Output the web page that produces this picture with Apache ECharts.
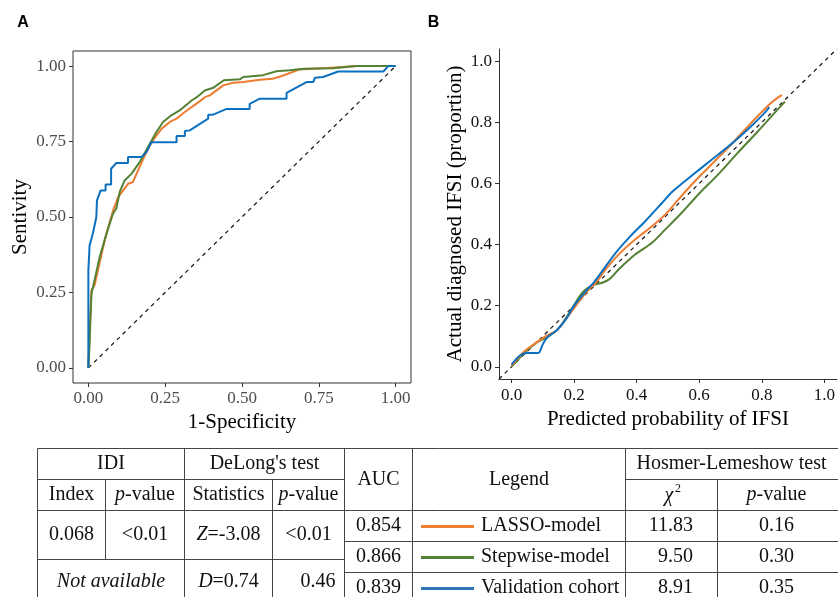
<!DOCTYPE html>
<html>
<head>
<meta charset="utf-8">
<script src="https://cdn.jsdelivr.net/npm/echarts@6/dist/echarts.min.js"></script>
<style>
html,body{margin:0;padding:0;background:#fff;}
#chart{width:838px;height:597px;}
</style>
</head>
<body>
<div id="chart"></div>
<script>
// ---------- Data ----------
// Panel A: ROC curves, [1-specificity, sensitivity]
const lassoRoc = [[0,0],[0.004,0.12],[0.01,0.257],[0.02,0.274],[0.026,0.30],[0.037,0.35],[0.048,0.40],[0.059,0.445],[0.08,0.52],[0.097,0.566],[0.113,0.588],[0.129,0.61],[0.145,0.616],[0.167,0.666],[0.189,0.715],[0.21,0.754],[0.238,0.792],[0.265,0.815],[0.287,0.826],[0.314,0.848],[0.363,0.884],[0.379,0.897],[0.395,0.903],[0.439,0.936],[0.471,0.945],[0.504,0.947],[0.558,0.955],[0.60,0.958],[0.634,0.969],[0.688,0.989],[0.775,0.994],[0.873,1.0],[1,1]];
const stepwiseRoc = [[0,0],[0.004,0.08],[0.007,0.169],[0.01,0.246],[0.02,0.29],[0.037,0.368],[0.059,0.445],[0.08,0.511],[0.091,0.528],[0.102,0.583],[0.118,0.621],[0.14,0.643],[0.167,0.682],[0.2,0.743],[0.221,0.781],[0.243,0.815],[0.27,0.837],[0.297,0.853],[0.336,0.886],[0.353,0.897],[0.379,0.919],[0.406,0.928],[0.441,0.953],[0.493,0.956],[0.504,0.964],[0.569,0.97],[0.612,0.983],[0.656,0.986],[0.699,0.991],[0.797,0.993],[0.873,1.0],[1,1]];
const validationRoc = [[0,0],[0,0.323],[0.004,0.406],[0.01,0.428],[0.015,0.447],[0.026,0.50],[0.028,0.555],[0.04,0.588],[0.056,0.588],[0.056,0.608],[0.074,0.608],[0.074,0.66],[0.091,0.679],[0.129,0.679],[0.129,0.699],[0.173,0.699],[0.189,0.715],[0.205,0.748],[0.287,0.748],[0.287,0.768],[0.314,0.768],[0.314,0.785],[0.33,0.787],[0.39,0.826],[0.39,0.839],[0.406,0.839],[0.45,0.858],[0.525,0.858],[0.525,0.875],[0.558,0.892],[0.645,0.892],[0.645,0.911],[0.71,0.947],[0.732,0.947],[0.737,0.961],[0.764,0.964],[0.813,0.982],[0.96,0.982],[0.976,1.0],[1,1]];
const rocDiagonal = [[0,0],[1,1]];

// Panel B: calibration curves, [predicted, actual]
const lassoCal = [[0,0.003],[0.037,0.047],[0.079,0.079],[0.111,0.101],[0.143,0.118],[0.174,0.156],[0.206,0.2],[0.238,0.243],[0.269,0.275],[0.301,0.319],[0.343,0.368],[0.396,0.417],[0.449,0.46],[0.491,0.498],[0.533,0.547],[0.586,0.607],[0.639,0.662],[0.702,0.727],[0.766,0.798],[0.829,0.863],[0.864,0.89]];
const stepwiseCal = [[0,0],[0.037,0.041],[0.079,0.079],[0.116,0.098],[0.153,0.128],[0.195,0.194],[0.227,0.243],[0.259,0.267],[0.29,0.275],[0.312,0.286],[0.343,0.319],[0.396,0.368],[0.449,0.406],[0.491,0.449],[0.544,0.504],[0.597,0.564],[0.66,0.629],[0.723,0.7],[0.787,0.77],[0.84,0.83],[0.874,0.868]];
const validationCal = [[0,0.007],[0.026,0.036],[0.048,0.045],[0.085,0.045],[0.1,0.074],[0.116,0.098],[0.143,0.118],[0.174,0.156],[0.2,0.2],[0.238,0.248],[0.264,0.277],[0.29,0.313],[0.333,0.373],[0.375,0.422],[0.428,0.477],[0.481,0.536],[0.512,0.571],[0.554,0.607],[0.607,0.651],[0.66,0.694],[0.713,0.738],[0.766,0.787],[0.808,0.83],[0.824,0.85]];
const calDiagonal = [[-0.04,-0.04],[1.04,1.04]];

// Tick labels
const ticksA = [0, 0.25, 0.5, 0.75, 1];
const ticksB = [0, 0.2, 0.4, 0.6, 0.8, 1.0];

// Table contents
const modelNames = ['LASSO-model', 'Stepwise-model', 'Validation cohort'];
const aucValues = ['0.854', '0.866', '0.839'];
const hlChi2 = ['11.83', '9.50', '8.91'];
const hlPValues = ['0.16', '0.30', '0.35'];
const idiRow = ['0.068', '<0.01'];
const delongZ = ['-3.08', '<0.01'];
const delongD = ['0.74', '0.46'];

// ---------- Styles ----------
const FONT = "'Liberation Serif','Times New Roman',serif";
const SANS = "'Liberation Sans',Arial,sans-serif";
const C_ORANGE = '#ED7D31', C_GREEN = '#548235', C_BLUE = '#0B70C0';
const LEG_BLUE = '#2E75B6';

const chart = echarts.init(document.getElementById('chart'), null, {renderer: 'canvas'});

function lineSeries(data, color, xi, smooth) {
  return {type: 'line', xAxisIndex: xi, yAxisIndex: xi, data: data, showSymbol: false, symbol: 'none',
    smooth: smooth || false, lineStyle: {color: color, width: 2}, itemStyle: {color: color}, z: 3, silent: true};
}
function dashSeries(data, xi) {
  return {type: 'line', xAxisIndex: xi, yAxisIndex: xi, data: data, showSymbol: false, symbol: 'none',
    lineStyle: {color: '#111', width: 1.2, type: [4, 4]}, z: 2, silent: true};
}

// ---------- Table graphics ----------
const G = [];
const LC = '#444';
function L(x1, y1, x2, y2) {
  G.push({type: 'line', silent: true, shape: {x1: x1, y1: y1, x2: x2, y2: y2}, style: {stroke: LC, lineWidth: 1}});
}
function T(x, y, text, align, extra) {
  const st = Object.assign({text: text, x: x, y: y, fontFamily: FONT, fontSize: 20, fill: '#111',
    align: align || 'center', verticalAlign: 'middle'}, extra || {});
  G.push({type: 'text', silent: true, style: st});
}
const rich = {
  i: {fontFamily: FONT, fontSize: 20, fontStyle: 'italic', fill: '#111'},
  n: {fontFamily: FONT, fontSize: 20, fill: '#111'}
};

const cx = [37.5, 105.5, 184.5, 272.5, 344.5, 412.5, 625.5, 717.5, 839.5];
const ry = [448.5, 479.5, 510.5, 541.5, 572.5, 603.5];
const rowMidIDI = 559.5;
// horizontal lines
L(cx[0], ry[0], cx[8], ry[0]);
L(cx[0], ry[1], cx[4], ry[1]);
L(cx[6], ry[1], cx[8], ry[1]);
L(cx[0], ry[2], cx[8], ry[2]);
L(cx[4], ry[3], cx[8], ry[3]);
L(cx[4], ry[4], cx[8], ry[4]);
L(cx[0], rowMidIDI, cx[4], rowMidIDI);
// vertical lines
L(cx[0], ry[0], cx[0], 600);
L(cx[1], ry[1], cx[1], rowMidIDI);
L(cx[2], ry[0], cx[2], 600);
L(cx[3], ry[1], cx[3], 600);
L(cx[4], ry[0], cx[4], 600);
L(cx[5], ry[0], cx[5], 600);
L(cx[6], ry[0], cx[6], 600);
L(cx[7], ry[1], cx[7], 600);

const hMid1 = (ry[0] + ry[1]) / 2, hMid2 = (ry[1] + ry[2]) / 2, hMidAll = (ry[0] + ry[2]) / 2;
T((cx[0] + cx[2]) / 2, hMid1, 'IDI');
T((cx[2] + cx[4]) / 2, hMid1, "DeLong's test");
T((cx[4] + cx[5]) / 2, hMidAll, 'AUC');
T((cx[5] + cx[6]) / 2, hMidAll, 'Legend');
T((cx[6] + cx[8]) / 2 - 1, hMid1, 'Hosmer-Lemeshow test');
T((cx[0] + cx[1]) / 2, hMid2, 'Index');
T((cx[1] + cx[2]) / 2, hMid2, '{i|p}{n|-value}', 'center', {rich: rich});
T((cx[2] + cx[3]) / 2, hMid2, 'Statistics');
T((cx[3] + cx[4]) / 2, hMid2, '{i|p}{n|-value}', 'center', {rich: rich});
T(669, hMid2 + 1, 'χ', 'center', {fontStyle: 'italic'});
T(678, hMid2 - 6, '2', 'center', {fontSize: 12});
T((cx[7] + cx[8]) / 2 - 2, hMid2, '{i|p}{n|-value}', 'center', {rich: rich});

const idiMid = (ry[2] + rowMidIDI) / 2;
T((cx[0] + cx[1]) / 2, idiMid, idiRow[0]);
T((cx[1] + cx[2]) / 2, idiMid, idiRow[1]);
T((cx[2] + cx[3]) / 2, idiMid, '{i|Z}{n|=' + delongZ[0] + '}', 'center', {rich: rich});
T((cx[3] + cx[4]) / 2, idiMid, delongZ[1]);
const naMid = (rowMidIDI + 603) / 2;
T((cx[0] + cx[2]) / 2, naMid, 'Not available', 'center', {fontStyle: 'italic'});
T((cx[2] + cx[3]) / 2, naMid, '{i|D}{n|=' + delongD[0] + '}', 'center', {rich: rich});
T(318, naMid, delongD[1]);

const legColors = [C_ORANGE, C_GREEN, LEG_BLUE];
for (let k = 0; k < 3; k++) {
  const ym = (ry[2 + k] + ry[3 + k]) / 2;
  T((cx[4] + cx[5]) / 2, ym, aucValues[k]);
  G.push({type: 'line', silent: true, shape: {x1: 421, y1: ym + 0.5, x2: 474, y2: ym + 0.5},
    style: {stroke: legColors[k], lineWidth: 3}});
  T(481, ym, modelNames[k], 'left');
  T(693, ym, hlChi2[k], 'right');
  T((cx[7] + cx[8]) / 2 - 2, ym, hlPValues[k]);
}

// Panel letters
G.push({type: 'text', silent: true, style: {text: 'A', x: 23, y: 22.5, fontFamily: SANS, fontWeight: 'bold', fontSize: 16, fill: '#000', align: 'center', verticalAlign: 'middle'}});
G.push({type: 'text', silent: true, style: {text: 'B', x: 433.5, y: 22.5, fontFamily: SANS, fontWeight: 'bold', fontSize: 16, fill: '#000', align: 'center', verticalAlign: 'middle'}});

// ---------- Axes ----------
function xAxisDef(gi, min, max, ticks, digits, name, gap, labelColor, showLine, margin) {
  return {
    gridIndex: gi, type: 'value', min: min, max: max,
    axisLine: {show: showLine, onZero: false, lineStyle: {color: '#333', width: 1}},
    axisTick: {show: true, length: 4, lineStyle: {color: '#333'}, customValues: ticks},
    axisLabel: {customValues: ticks, formatter: v => v.toFixed(digits), color: labelColor,
      fontSize: 17, fontFamily: FONT, margin: margin},
    splitLine: {show: false},
    name: name, nameLocation: 'middle', nameGap: gap,
    nameTextStyle: {fontSize: 21, fontFamily: FONT, color: '#000'}
  };
}

const option = {
  animation: false,
  backgroundColor: '#fff',
  grid: [
    {left: 73, top: 51, width: 338, height: 332, show: true, borderColor: '#333', borderWidth: 1, backgroundColor: 'transparent'},
    {left: 499, top: 49, width: 341, height: 330, show: false}
  ],
  xAxis: [
    xAxisDef(0, -0.05, 1.05, ticksA, 2, '1-Specificity', 22, '#4d4d4d', false, 7),
    xAxisDef(1, -0.04, 1.04, ticksB, 1, 'Predicted probability of IFSI', 28, '#111', true, 8)
  ],
  yAxis: [
    xAxisDef(0, -0.05, 1.05, ticksA, 2, 'Sentivity', 42, '#4d4d4d', false, 7),
    xAxisDef(1, -0.04, 1.04, ticksB, 1, 'Actual diagnosed IFSI (proportion)', 33, '#111', true, 7)
  ],
  series: [
    dashSeries(rocDiagonal, 0),
    lineSeries(lassoRoc, C_ORANGE, 0),
    lineSeries(stepwiseRoc, C_GREEN, 0),
    lineSeries(validationRoc, C_BLUE, 0),
    dashSeries(calDiagonal, 1),
    lineSeries(stepwiseCal, C_GREEN, 1, 0.3),
    lineSeries(lassoCal, C_ORANGE, 1, 0.3),
    lineSeries(validationCal, C_BLUE, 1, 0.3)
  ],
  graphic: G
};
chart.setOption(option);
</script>
</body>
</html>
